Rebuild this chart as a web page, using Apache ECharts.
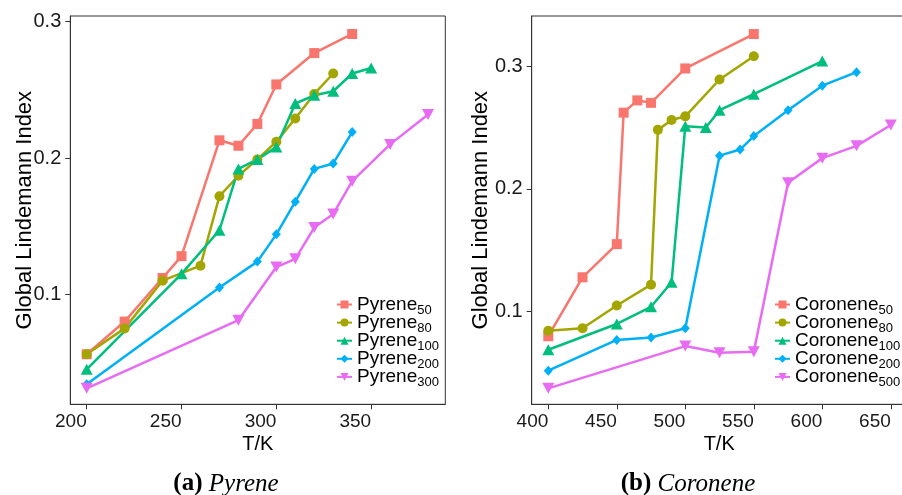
<!DOCTYPE html>
<html><head><meta charset="utf-8">
<script src="https://cdn.jsdelivr.net/npm/echarts@6/dist/echarts.min.js"></script>
<style>html,body{margin:0;padding:0;background:#fff}#c{width:902px;height:495px}</style>
</head><body><div id="c"></div>
<script>
// ---- Pyrene panel data ----
const pyr50T = [200,220,240,250,270,280,290,300,320,340];
const pyr50V = [0.056,0.080,0.112,0.128,0.213,0.209,0.225,0.254,0.277,0.291];
const pyr80T = [200,220,240,260,270,280,290,300,310,320,330];
const pyr80V = [0.056,0.075,0.110,0.121,0.172,0.187,0.199,0.212,0.229,0.247,0.262];
const pyr100T = [200,250,270,280,290,300,310,320,330,340,350];
const pyr100V = [0.045,0.115,0.147,0.192,0.199,0.208,0.240,0.246,0.249,0.262,0.266];
const pyr200T = [200,270,290,300,310,320,330,340];
const pyr200V = [0.034,0.105,0.124,0.144,0.168,0.192,0.196,0.219];
const pyr300T = [200,280,300,310,320,330,340,360,380];
const pyr300V = [0.031,0.081,0.120,0.126,0.149,0.159,0.183,0.210,0.232];
// ---- Coronene panel data ----
const cor50T = [400,425,450,455,465,475,500,550];
const cor50V = [0.080,0.128,0.155,0.262,0.272,0.270,0.298,0.326];
const cor80T = [400,425,450,475,480,490,500,525,550];
const cor80V = [0.0845,0.0865,0.105,0.122,0.248,0.256,0.259,0.289,0.308];
const cor100T = [400,450,475,490,500,515,525,550,600];
const cor100V = [0.069,0.090,0.104,0.124,0.251,0.250,0.264,0.277,0.304];
const cor200T = [400,450,475,500,525,540,550,575,600,625];
const cor200V = [0.052,0.077,0.079,0.0865,0.227,0.232,0.243,0.264,0.284,0.295];
const cor500T = [400,500,525,550,575,600,625,650];
const cor500V = [0.0376,0.072,0.0666,0.0674,0.205,0.225,0.235,0.252];
// ---- ticks / labels ----
const pyrXTicks = [200,250,300,350];
const corXTicks = [400,450,500,550,600,650];
const pyrYTicks = [0.1,0.2,0.3];
const corYTicks = [0.1,0.2,0.3];
const pyrNames = ['Pyrene50','Pyrene80','Pyrene100','Pyrene200','Pyrene300'];
const corNames = ['Coronene50','Coronene80','Coronene100','Coronene200','Coronene500'];
const xTitle = 'T/K';
const yTitle = 'Global Lindemann Index';
const captionA = ['(a)','Pyrene'];
const captionB = ['(b)','Coronene'];

const colors = ['#F8766D','#A3A500','#00BF7D','#00B0F6','#E76BF3'];
const symbols = ['rect','circle','triangle','diamond','path://M0,0L2,0L1,1.732Z'];
const symSizes = [10,10,[12,11],[9,10],[12,11]];
const FONT = '"Liberation Sans", Arial, sans-serif';
const SERIF = '"Liberation Serif", "Times New Roman", serif';

function zip(t,v){ return t.map((x,i)=>[x,v[i]]); }
const pyrData = [zip(pyr50T,pyr50V),zip(pyr80T,pyr80V),zip(pyr100T,pyr100V),zip(pyr200T,pyr200V),zip(pyr300T,pyr300V)];
const corData = [zip(cor50T,cor50V),zip(cor80T,cor80V),zip(cor100T,cor100V),zip(cor200T,cor200V),zip(cor500T,cor500V)];

function mkSeries(names, data, gi){
  return names.map((n,i)=>({
    type:'line', name:n, xAxisIndex:gi, yAxisIndex:gi, data:data[i],
    symbol:symbols[i], symbolSize:symSizes[i], showSymbol:true,
    lineStyle:{color:colors[i], width:2.5}, itemStyle:{color:colors[i]},
    emphasis:{disabled:true}, animation:false
  }));
}
function xAxis(gi,min,max,ticks,gap){
  return {gridIndex:gi, type:'value', min:min, max:max,
    axisLine:{show:true,onZero:false,lineStyle:{color:'#333',width:1}},
    axisTick:{show:true,customValues:ticks,length:5,lineStyle:{color:'#333'}},
    axisLabel:{customValues:ticks,fontSize:19,color:'#1a1a1a',margin:8,fontFamily:FONT,align:'right'},
    splitLine:{show:false},
    name:xTitle, nameLocation:'middle', nameGap:gap, nameMoveOverlap:false,
    nameTextStyle:{fontSize:20,color:'#000',fontFamily:FONT}};
}
function yAxis(gi,min,max,ticks,gap){
  return {gridIndex:gi, type:'value', min:min, max:max,
    axisLine:{show:true,onZero:false,lineStyle:{color:'#333',width:1}},
    axisTick:{show:true,customValues:ticks,length:5,lineStyle:{color:'#333'}},
    axisLabel:{customValues:ticks,fontSize:20,color:'#1a1a1a',margin:9,fontFamily:FONT,
      formatter:v=>v.toFixed(1)},
    splitLine:{show:false},
    name:yTitle, nameLocation:'middle', nameGap:gap, nameRotate:90, nameMoveOverlap:false,
    nameTextStyle:{fontSize:22,color:'#000',fontFamily:FONT}};
}
const legendRich = {
  n:{fontSize:19,lineHeight:18,color:'#000',fontFamily:FONT},
  s:{fontSize:13,lineHeight:18,height:7,verticalAlign:'bottom',color:'#000',fontFamily:FONT}
};
function legend(names,left,top){
  return {data:names, orient:'vertical', left:left, top:top, padding:0,
    itemWidth:15, itemHeight:10, itemGap:-3.4, selectedMode:false,
    formatter:n=>{const m=n.match(/^([A-Za-z]+)(\d+)$/); return '{n|'+m[1]+'}{s|'+m[2]+'}';},
    textStyle:{rich:legendRich}};
}
function caption(parts,x){
  return {type:'text', silent:true, style:{x:x, y:484, align:'center', verticalAlign:'middle',
    text:'{b|'+parts[0]+' }{i|'+parts[1]+'}',
    rich:{b:{fontWeight:'bold',fontSize:25,fontFamily:SERIF,fill:'#000'},
          i:{fontStyle:'italic',fontSize:25,fontFamily:SERIF,fill:'#000'}}}};
}

const chart = echarts.init(document.getElementById('c'),null,{renderer:'canvas'});
chart.setOption({
  animation:false,
  backgroundColor:'#fff',
  textStyle:{fontFamily:FONT},
  grid:[
    {left:70.3, top:16, width:375, height:388.3, show:true, borderColor:'#333', borderWidth:1, outerBoundsMode:'none', containLabel:false},
    {left:531.7, top:16, width:375, height:388.3, show:true, borderColor:'#333', borderWidth:1, outerBoundsMode:'none', containLabel:false}
  ],
  xAxis:[xAxis(0,191.35,389.1,pyrXTicks,30), xAxis(1,387.9,661.6,corXTicks,30)],
  yAxis:[yAxis(0,0.0193,0.3042,pyrYTicks,34), yAxis(1,0.0246,0.3407,corYTicks,40)],
  legend:[legend(pyrNames,336,295), legend(corNames,774,295)],
  series:[...mkSeries(pyrNames,pyrData,0), ...mkSeries(corNames,corData,1)],
  graphic:[caption(captionA,226), caption(captionB,688)]
});
</script></body></html>
